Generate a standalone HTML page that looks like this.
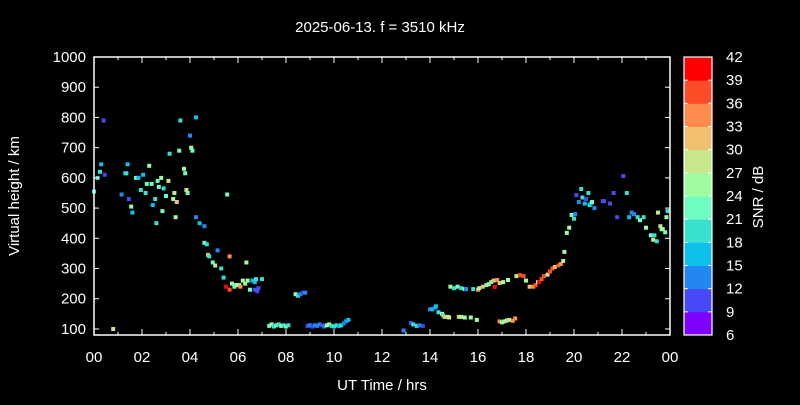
<!DOCTYPE html>
<html><head><meta charset="utf-8"><style>
body{margin:0;background:#000;}
svg text{font-family:"Liberation Sans",sans-serif;fill:#fff;}
</style></head><body>
<svg id="c" width="800" height="400" viewBox="0 0 800 400">
<rect width="800" height="400" fill="#000"/>
<text x="380" y="32" font-size="15" text-anchor="middle">2025-06-13. f = 3510 kHz</text>
<g id="marks"></g>
<g id="axes"></g>
</svg>
<script>
const hours=[0.0,0.15,0.25,0.3,0.4,0.45,0.8,1.15,1.3,1.35,1.4,1.45,1.55,1.6,1.75,1.85,1.95,2.05,2.15,2.2,2.3,2.4,2.45,2.55,2.6,2.65,2.7,2.8,2.85,2.9,3.0,3.1,3.15,3.3,3.35,3.4,3.45,3.55,3.6,3.75,3.8,3.85,3.9,4.0,4.05,4.1,4.25,4.25,4.4,4.6,4.6,4.7,4.75,4.8,4.95,5.05,5.15,5.3,5.4,5.5,5.55,5.65,5.65,5.75,5.85,5.9,5.95,6.05,6.1,6.2,6.3,6.35,6.4,6.5,6.6,6.7,6.75,6.7,6.8,6.85,7.0,
7.3,7.4,7.5,7.6,7.7,7.8,7.9,8.0,8.1,8.4,8.5,8.6,8.7,8.8,
8.9,9.0,9.1,9.2,9.3,9.4,9.5,9.6,9.7,9.8,9.9,10.0,10.1,10.2,10.3,10.4,10.5,10.6,
12.9,13.2,13.3,13.45,13.55,13.7,14.0,14.1,14.2,14.25,14.35,14.5,14.55,14.6,14.75,14.8,15.2,15.3,15.45,15.7,15.95,
14.85,15.0,15.15,15.3,15.45,15.5,15.8,16.0,16.05,16.2,16.35,16.45,16.55,16.65,16.8,16.9,17.05,17.25,16.7,
16.9,17.0,17.1,17.2,17.3,17.45,17.55,
17.6,17.75,17.9,18.0,18.15,18.3,18.4,18.5,18.55,18.65,18.75,18.9,19.0,19.1,19.2,19.35,19.45,19.55,19.6,19.7,
19.8,19.9,20.0,20.05,20.1,20.2,20.3,20.35,20.45,20.5,20.6,20.65,20.7,20.75,20.85,21.2,21.25,21.5,21.65,21.8,22.05,22.2,22.3,22.4,22.5,22.65,22.75,22.9,23.0,23.2,23.3,23.35,23.45,23.5,23.6,23.65,23.7,23.8,23.85,23.9];
const heights=[555,600,620,645,790,610,100,545,615,615,645,530,505,485,600,600,560,610,550,580,640,580,510,530,450,590,570,600,490,565,540,590,680,530,550,470,520,690,790,630,615,560,550,740,700,690,800,470,450,440,385,380,345,340,320,310,360,300,270,240,545,340,230,250,240,245,245,245,240,260,250,320,260,230,260,255,265,230,225,235,265,
110,115,108,112,115,110,112,108,112,215,210,215,220,220,
110,112,108,112,110,115,112,108,112,115,110,108,112,110,112,118,125,130,
95,120,115,110,112,110,165,165,170,175,155,150,145,140,140,138,140,140,138,138,130,
240,235,240,235,232,232,232,230,235,240,245,248,255,260,262,252,255,262,239,
125,122,125,128,130,127,135,
275,278,275,260,240,240,245,255,255,265,275,280,290,300,305,310,315,325,355,418,
435,477,465,480,543,520,563,535,515,530,550,510,515,520,500,523,523,515,550,470,606,550,470,485,480,470,460,470,435,410,395,410,390,485,440,430,430,420,470,490];
const snr=[19,20,20,15,10,10,28,14,17,18,15,11,24,15,23,17,18,17,18,21,24,21,15,19,19,21,22,24,23,20,22,27,20,26,27,24,32,21,18,24,22,27,21,14,24,21,16,14,17,14,23,19,32,19,21,28,14,19,19,40,21,33,36,24,23,22,26,25,34,25,26,24,26,23,15,17,20,10,10,9,20,
23,25,20,22,19,24,20,22,20,24,20,12,10,14,
10,12,10,14,12,13,10,12,24,26,20,18,20,15,18,14,12,16,
14,10,19,18,12,10,14,15,14,15,19,24,20,32,25,27,31,26,26,25,25,
25,20,22,18,24,14,18,34,25,31,22,29,22,32,35,32,25,25,40,
34,25,25,25,27,34,35,
27,37,36,25,31,33,38,25,39,38,37,28,38,38,32,36,33,28,24,24,
24,21,19,14,10,14,20,19,16,10,20,19,16,23,14,10,10,10,10,10,10,19,15,14,14,18,21,18,24,21,27,20,20,28,27,24,24,22,24,19];
const snrTicks=[6,9,12,15,18,21,24,27,30,33,36,39,42];
const yTicks=[100,200,300,400,500,600,700,800,900,1000];
const xTicks=["00","02","04","06","08","10","12","14","16","18","20","22","00"];
const colors=["#8000ff","#4848f8","#2088f0","#0cc0e8","#38e0d0","#70fcc0","#a0fca0","#c8e68c","#f0c070","#ff8c4c","#ff4c28","#ff0000"];
const X0=94,X1=670,Y0=335,Y1=57,YMIN=80,YMAX=1000;
const xs=h=>X0+(h/24)*(X1-X0);
const ys=v=>Y0-(v-YMIN)/(YMAX-YMIN)*(Y0-Y1);
const cidx=s=>Math.max(0,Math.min(11,Math.floor((s-6)/3)));
const NS="http://www.w3.org/2000/svg";
function mk(t,a,p){const e=document.createElementNS(NS,t);for(const k in a)e.setAttribute(k,a[k]);p.appendChild(e);return e;}
const marks=document.getElementById('marks'),axes=document.getElementById('axes');
for(let i=0;i<hours.length;i++){
 const r=mk('rect',{x:(xs(hours[i])-2).toFixed(1),y:(ys(heights[i])-2).toFixed(1),width:4,height:4,fill:colors[cidx(snr[i])]},marks);
 
 
}
const frame=mk('rect',{x:X0,y:Y1,width:X1-X0,height:Y0-Y1,fill:'none',stroke:'#fff','stroke-width':1.5},axes);


yTicks.forEach(v=>{const y=ys(v);
 mk('line',{x1:X0,x2:X0+5,y1:y,y2:y,stroke:'#fff'},axes);
 mk('line',{x1:X1,x2:X1-5,y1:y,y2:y,stroke:'#fff'},axes);
 const t=mk('text',{x:X0-8,y:y+5,'font-size':15,'text-anchor':'end'},axes);t.textContent=v;
 
 
});
xTicks.forEach((l,i)=>{const x=xs(i*2);
 mk('line',{x1:x,x2:x,y1:Y0,y2:Y0-6,stroke:'#fff'},axes);
 mk('line',{x1:x,x2:x,y1:Y1,y2:Y1+6,stroke:'#fff'},axes);
 if(i<12){const xm=xs(i*2+1);mk('line',{x1:xm,x2:xm,y1:Y0,y2:Y0-3,stroke:'#fff'},axes);mk('line',{x1:xm,x2:xm,y1:Y1,y2:Y1+3,stroke:'#fff'},axes);}
 const t=mk('text',{x:x,y:362,'font-size':15,'text-anchor':'middle'},axes);t.textContent=l;
 
 
});
const xt=mk('text',{x:382,y:390,'font-size':15,'text-anchor':'middle'},axes);xt.textContent='UT Time / hrs';


const yt=mk('text',{x:19,y:196,'font-size':15,'text-anchor':'middle',transform:'rotate(-90 19 196)'},axes);yt.textContent='Virtual height / km';


// colorbar
const CX=684,CW=28,CT=57,CB=335,seg=(CB-CT)/12;
colors.forEach((c,i)=>{const r=mk('rect',{x:CX,y:CB-(i+1)*seg,width:CW,height:seg+0.5,fill:c},axes);
 
 });
mk('rect',{x:CX,y:CT,width:CW,height:CB-CT,fill:'none',stroke:'#fff','stroke-width':1.2},axes);
snrTicks.forEach((v,i)=>{const y=CB-i*seg;
 mk('line',{x1:CX,x2:CX+4,y1:y,y2:y,stroke:'#fff'},axes);
 mk('line',{x1:CX+CW,x2:CX+CW-4,y1:y,y2:y,stroke:'#fff'},axes);
 const t=mk('text',{x:726,y:y+5,'font-size':15},axes);t.textContent=v;
 
 
});
const ct=mk('text',{x:763,y:197,'font-size':15,'text-anchor':'middle',transform:'rotate(-90 763 197)'},axes);ct.textContent='SNR / dB';


</script>
</body></html>
